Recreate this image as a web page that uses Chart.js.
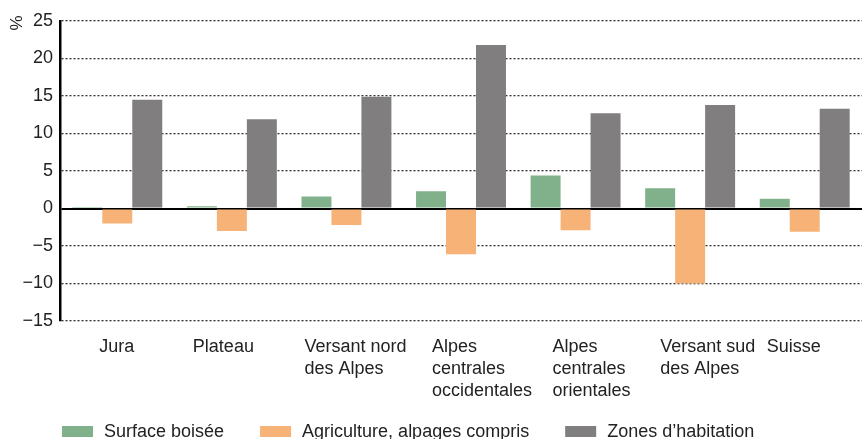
<!DOCTYPE html>
<html>
<head>
<meta charset="utf-8">
<script src="https://cdn.jsdelivr.net/npm/chart.js@4.4.0/dist/chart.umd.min.js"></script>
<style>
  html, body { margin: 0; padding: 0; background: #fff; }
  #wrap { width: 862px; height: 439px; }
</style>
</head>
<body>
<div id="wrap"><canvas id="chart" width="862" height="439"></canvas></div>
<script>
// Données
const regions = [
    ['Jura'],
    ['Plateau'],
    ['Versant nord', 'des Alpes'],
    ['Alpes', 'centrales', 'occidentales'],
    ['Alpes', 'centrales', 'orientales'],
    ['Versant sud', 'des Alpes'],
    ['Suisse']
];
const forestValues = [0.2, 0.3, 1.6, 2.3, 4.4, 2.7, 1.3];
const agricultureValues = [-2.0, -3.0, -2.2, -6.1, -2.9, -10.0, -3.1];
const settlementValues = [14.5, 11.9, 14.9, 21.8, 12.7, 13.8, 13.3];
const seriesNames = ['Surface boisée', 'Agriculture, alpages compris', 'Zones d\u2019habitation'];
const yTicks = [-15, -10, -5, 0, 5, 10, 15, 20, 25];

// Décalage horizontal des étiquettes (texte aligné à gauche)
const labelShift = [-18, -39, -42, -29, -23, -30, -38];

const FONT = '"Liberation Sans", Arial, sans-serif';
const TEXT_COLOR = '#222';

// Étiquettes de catégories, légende et unité
const annotations = {
    id: 'annotations',
    afterDraw(chart) {
        const ctx = chart.ctx;
        const xScale = chart.scales.x;
        const area = chart.chartArea;
        ctx.save();
        ctx.fillStyle = TEXT_COLOR;
        ctx.font = '18px ' + FONT;
        ctx.textAlign = 'left';
        ctx.textBaseline = 'alphabetic';

        regions.forEach((lines, i) => {
            const x = xScale.getPixelForValue(i) + labelShift[i];
            lines.forEach((line, j) => {
                ctx.fillText(line, x, area.bottom + 31 + j * 22);
            });
        });

        // Légende
        let x = 62;
        chart.data.datasets.forEach(ds => {
            ctx.fillStyle = ds.backgroundColor;
            ctx.fillRect(x, 426, 31, 11);
            ctx.fillStyle = TEXT_COLOR;
            ctx.fillText(ds.label, x + 42, 437);
            x += 42 + ctx.measureText(ds.label).width + 36;
        });

        // Unité
        ctx.translate(17, 23);
        ctx.rotate(-Math.PI / 2);
        ctx.textAlign = 'center';
        ctx.textBaseline = 'middle';
        ctx.font = '17px ' + FONT;
        ctx.fillText('%', 0, 0);
        ctx.restore();
    }
};

const ctx = document.getElementById('chart').getContext('2d');
new Chart(ctx, {
    type: 'bar',
    data: {
        labels: regions,
        datasets: [
            { label: seriesNames[0], data: forestValues, backgroundColor: '#80b18a' },
            { label: seriesNames[1], data: agricultureValues, backgroundColor: '#f6b277' },
            { label: seriesNames[2], data: settlementValues, backgroundColor: '#807e7e' }
        ]
    },
    options: {
        responsive: false,
        animation: false,
        layout: { padding: { top: 21, left: 0, right: 0, bottom: 0 } },
        datasets: {
            bar: { barPercentage: 1, categoryPercentage: 0.785 }
        },
        plugins: {
            legend: { display: false },
            tooltip: { enabled: false }
        },
        scales: {
            x: {
                grid: { display: false },
                border: { display: false },
                ticks: { display: false },
                afterFit(scale) { scale.height = 118; }
            },
            y: {
                min: -15,
                max: 25,
                afterBuildTicks(scale) {
                    scale.ticks = yTicks.map(v => ({ value: v }));
                },
                afterFit(scale) { scale.width = 60; },
                ticks: {
                    padding: 7,
                    color: TEXT_COLOR,
                    font: { family: FONT, size: 18 },
                    callback: v => String(v).replace('-', '\u2212')
                },
                grid: {
                    drawTicks: false,
                    color: c => (c.tick && c.tick.value === 0) ? '#000' : '#333',
                    lineWidth: c => (c.tick && c.tick.value === 0) ? 2 : 1.3
                },
                border: {
                    display: true,
                    color: '#000',
                    width: 2.5,
                    dash: c => (c.tick && c.tick.value === 0) ? [] : [2, 2]
                }
            }
        }
    },
    plugins: [annotations]
});
</script>
</body>
</html>
